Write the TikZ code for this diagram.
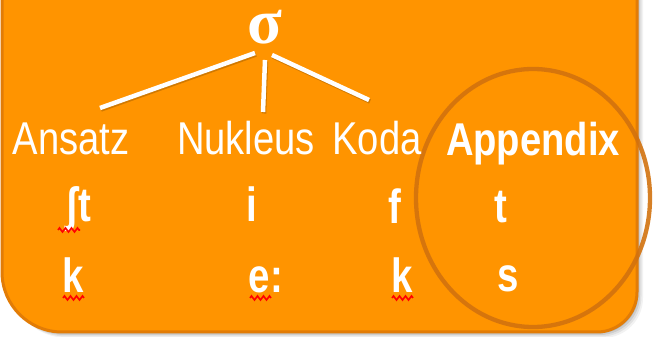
\documentclass[tikz,border=0pt]{standalone}
\usepackage{fontspec}
\usetikzlibrary{decorations.pathmorphing}
\newfontfamily\labfont{Liberation Sans}[FakeStretch=0.83]
\newfontfamily\segfont{Liberation Sans}[FakeStretch=0.8]
\newfontfamily\sigfont{Liberation Serif}
\definecolor{boxorange}{RGB}{255,148,0}
\definecolor{boxedge}{RGB}{226,124,6}
\definecolor{ringcol}{RGB}{210,114,14}
\tikzset{
  lab/.style={text=white,font=\labfont\fontsize{46}{46}\selectfont,inner sep=0pt,anchor=base},
  labb/.style={lab,font=\labfont\bfseries\fontsize{46}{46}\selectfont},
  seg/.style={text=white,font=\segfont\bfseries\fontsize{48}{48}\selectfont,inner sep=0pt,anchor=base},
  branch/.style={draw=white,line width=4.5pt},
  branchshadow/.style={draw=black,opacity=0.18,line width=4.5pt},
  squig/.style={draw=red,line width=1.6pt,decorate,decoration={zigzag,amplitude=2pt,segment length=6pt}},
}
\begin{document}
\begin{tikzpicture}[x=1pt,y=1pt]
\useasboundingbox (0,0) rectangle (654,337);
% shadow
\foreach \o/\op in {6/0.05,4.5/0.07,3/0.09,1.5/0.12}{
  \fill[black,opacity=\op] (2+\o,360) -- (2+\o,65-\o) arc[start angle=180,end angle=270,radius=60] -- (597+\o,5-\o) arc[start angle=270,end angle=360,radius=40] -- (637+\o,360) -- cycle;
}
% box
\path[fill=boxorange,draw=boxedge,line width=3pt] (2,360) -- (2,65) arc[start angle=180,end angle=270,radius=60] -- (597,5) arc[start angle=270,end angle=360,radius=40] -- (637,360) -- cycle;
% ring
\draw[ringcol,opacity=0.9,line width=4.3pt] (533,139) ellipse[x radius=117,y radius=129];
% sigma
\node[text=white,font=\sigfont\bfseries\fontsize{64}{64}\selectfont,inner sep=0pt,anchor=base] (sig) at (265,293) {σ};
% labels
\node[lab] (ans) at (71,182) {Ansatz};
\node[lab] (nuk) at (246,182) {Nukleus};
\node[lab] (kod) at (377,182) {Koda};
\node[labb] (app) at (533,181) {Appendix};
% branch ends
\coordinate (s1) at (255,284);
\coordinate (s2) at (265,277);
\coordinate (s3) at (272,282);
\coordinate (e1) at (100,229);
\coordinate (e2) at (263,225);
\coordinate (e3) at (369,237);
\foreach \a/\b in {s1/e1,s2/e2,s3/e3}{
  \draw[branchshadow] ([shift={(1,-1.5)}]\a) -- ([shift={(1,-1.5)}]\b);
}
\draw[branch] (s1) -- (e1);
\draw[branch] (s2) -- (e2);
\draw[branch] (s3) -- (e3);
% segments row 1
\node[seg] (r1a) at (78,115) {ʃt};
\node[seg] (r1n) at (252,115) {i};
\node[seg] (r1k) at (395,113) {f};
\node[seg] (r1p) at (501,114) {t};
% segments row 2
\node[seg] (r2a) at (73,44) {k};
\node[seg] (r2n) at (266,44) {e:};
\node[seg] (r2k) at (402,44) {k};
\node[seg] (r2p) at (508,45) {s};
% spell-check squiggles
\coordinate (q1a) at (58,107); \coordinate (q1b) at (80,107);
\coordinate (q2a) at (63,39);  \coordinate (q2b) at (84,39);
\coordinate (q3a) at (250,39); \coordinate (q3b) at (271,39);
\coordinate (q4a) at (392,39); \coordinate (q4b) at (413,39);
\draw[squig] (q1a) -- (q1b);
\draw[squig] (q2a) -- (q2b);
\draw[squig] (q3a) -- (q3b);
\draw[squig] (q4a) -- (q4b);
\end{tikzpicture}
\end{document}
